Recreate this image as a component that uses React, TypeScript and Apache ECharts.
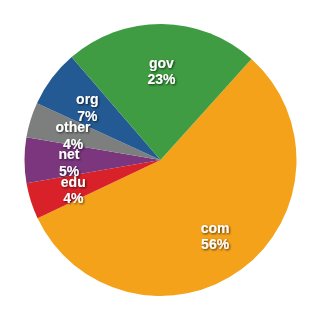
import React, { useEffect, useRef } from "react";
import * as echarts from "echarts";

const categories = ["com", "edu", "net", "other", "org", "gov"];
const values = [56.3, 4.3, 5.4, 4.2, 6.8, 23.0];
const colors = ["#F5A21B", "#D82129", "#7B367E", "#7D7F7E", "#245A94", "#3F9C42"];

export default function App() {
  const ref = useRef<HTMLDivElement>(null);
  useEffect(() => {
    document.body.style.margin = "0";
    const chart = echarts.init(ref.current!, undefined, { renderer: "svg" });
    const data = categories.map((name, i) => ({ name, value: values[i] }));
    const total = values.reduce((a, b) => a + b, 0);
    chart.setOption({
      animation: false,
      series: [
        {
          type: "pie",
          center: [160.5, 160],
          radius: [0, 136],
          startAngle: 48,
          clockwise: true,
          silent: true,
          label: { show: false },
          labelLine: { show: false },
          data: data.map((d, i) => ({ ...d, itemStyle: { color: colors[i] } })),
        },
        {
          type: "pie",
          center: [160.5, 162.5],
          radius: [41, 136],
          startAngle: 48,
          clockwise: true,
          silent: true,
          avoidLabelOverlap: false,
          itemStyle: { color: "transparent" },
          labelLine: { show: false },
          labelLayout: { hideOverlap: false },
          label: {
            show: true,
            position: "inside",
            overflow: "none",
            formatter: (p: any) => `${p.name}\n${Math.round((p.value / total) * 100)}%`,
            color: "#fff",
            fontFamily: "Liberation Sans, Arial, sans-serif",
            fontWeight: "bold",
            fontSize: 14,
            lineHeight: 16.5,
            textShadowColor: "rgba(0,0,0,0.7)",
            textShadowBlur: 2,
            textShadowOffsetX: 1,
            textShadowOffsetY: 1,
          },
          data,
        },
      ],
    });
    return () => chart.dispose();
  }, []);
  return <div ref={ref} style={{ width: 320, height: 319 }} />;
}
